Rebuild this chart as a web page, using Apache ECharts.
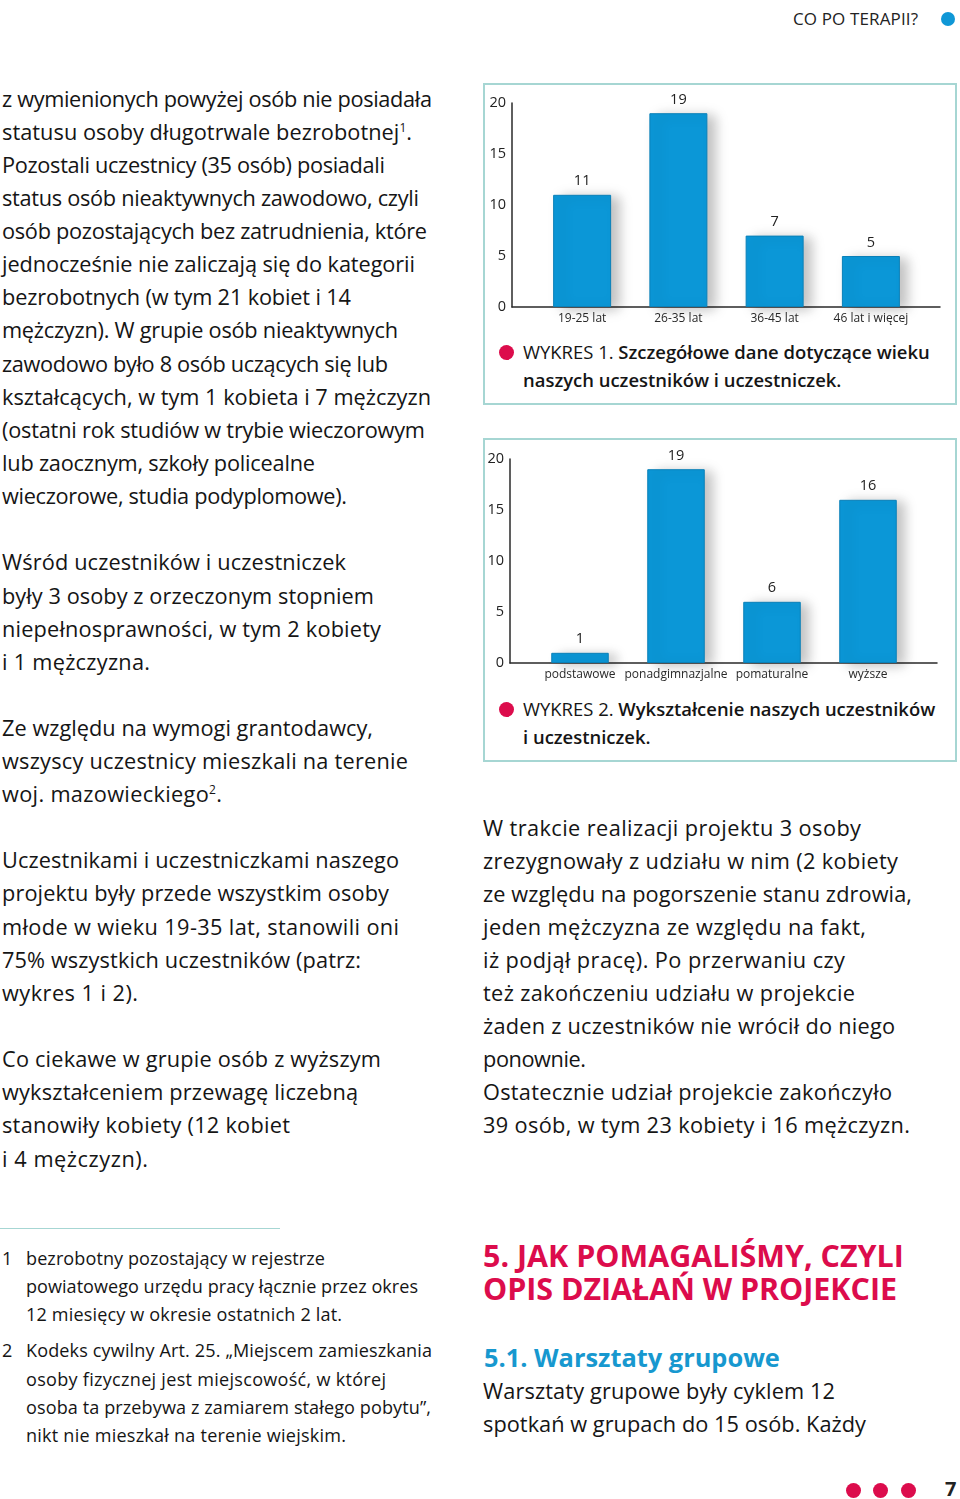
<!DOCTYPE html>
<html><head><meta charset="utf-8">
<script src="https://cdn.jsdelivr.net/npm/echarts@6/dist/echarts.min.js"></script>
<style>
html,body{margin:0;padding:0;background:#fff;}
#page{position:relative;width:960px;height:1499px;overflow:hidden;background:#fff;color:#151515;}
.t{position:absolute;white-space:nowrap;}
.dot{position:absolute;border-radius:50%;}
.panel{position:absolute;box-sizing:border-box;border:2px solid #a6d6d3;}
.chart{position:absolute;}
sup{font-size:0.55em;vertical-align:0.65em;line-height:0;}
</style></head>
<body><div id="page"></div>
<script>
// ---------- CHART DATA ----------
const ageCategories = ['19-25 lat', '26-35 lat', '36-45 lat', '46 lat i więcej'];
const ageValues = [11, 19, 7, 5];
const eduCategories = ['podstawowe', 'ponadgimnazjalne', 'pomaturalne', 'wyższe'];
const eduValues = [1, 19, 6, 16];
const axisMin = 0, axisMax = 20, axisStep = 5;

// ---------- PAGE TEXT ----------
const leftText = [
  'z wymienionych powyżej osób nie posiadała',
  'statusu osoby długotrwale bezrobotnej<sup>1</sup>.',
  'Pozostali uczestnicy (35 osób) posiadali',
  'status osób nieaktywnych zawodowo, czyli',
  'osób pozostających bez zatrudnienia, które',
  'jednocześnie nie zaliczają się do kategorii',
  'bezrobotnych (w tym 21 kobiet i 14',
  'mężczyzn). W grupie osób nieaktywnych',
  'zawodowo było 8 osób uczących się lub',
  'kształcących, w tym 1 kobieta i 7 mężczyzn',
  '(ostatni rok studiów w trybie wieczorowym',
  'lub zaocznym, szkoły policealne',
  'wieczorowe, studia podyplomowe).',
  'Wśród uczestników i uczestniczek',
  'były 3 osoby z orzeczonym stopniem',
  'niepełnosprawności, w tym 2 kobiety',
  'i 1 mężczyzna.',
  'Ze względu na wymogi grantodawcy,',
  'wszyscy uczestnicy mieszkali na terenie',
  'woj. mazowieckiego<sup>2</sup>.',
  'Uczestnikami i uczestniczkami naszego',
  'projektu były przede wszystkim osoby',
  'młode w wieku 19-35 lat, stanowili oni',
  '75% wszystkich uczestników (patrz:',
  'wykres 1 i 2).',
  'Co ciekawe w grupie osób z wyższym',
  'wykształceniem przewagę liczebną',
  'stanowiły kobiety (12 kobiet',
  'i 4 mężczyzn).'
];
const rightText = [
  'W trakcie realizacji projektu 3 osoby',
  'zrezygnowały z udziału w nim (2 kobiety',
  'ze względu na pogorszenie stanu zdrowia,',
  'jeden mężczyzna ze względu na fakt,',
  'iż podjął pracę). Po przerwaniu czy',
  'też zakończeniu udziału w projekcie',
  'żaden z uczestników nie wrócił do niego',
  'ponownie.',
  'Ostatecznie udział projekcie zakończyło',
  '39 osób, w tym 23 kobiety i 16 mężczyzn.',
  'Warsztaty grupowe były cyklem 12',
  'spotkań w grupach do 15 osób. Każdy'
];
const footNums = ['1', '', '', '2', '', '', ''];
const footText = [
  'bezrobotny pozostający w rejestrze',
  'powiatowego urzędu pracy łącznie przez okres',
  '12 miesięcy w okresie ostatnich 2 lat.',
  'Kodeks cywilny Art. 25. „Miejscem zamieszkania',
  'osoby fizycznej jest miejscowość, w której',
  'osoba ta przebywa z zamiarem stałego pobytu”,',
  'nikt nie mieszkał na terenie wiejskim.'
];

// ---------- PAGE LAYOUT (line centre y, right edge x) ----------
const leftLayout = [[99,432],[132,412],[165,385],[198,419],[231,427],[264,415],[297,351],[330,398],[364,388],[397,431],[430,425],[463,315],[496,347],
  [562,346],[596,374],[629,381],[662,150],[728,373],[761,408],[794,222],[860,399],[893,389],[927,399],[960,361],[993,138],[1059,381],[1092,358],[1125,290],[1159,148]];
const rightLayout = [[828,861],[861,898],[894,912],[927,866],[960,845],[993,855],[1026,895],[1059,586],[1092,892],[1125,910],[1391,835],[1424,866]];
const footLayout = [[1258,325],[1286,418],[1314,342],[1350,432],[1379,386],[1407,431],[1435,346]];

const FONT = '"Open Sans", "Noto Sans", sans-serif';
const CFONT = '"Open Sans", "Noto Sans", sans-serif';
const RED = '#dc0c4c', BLUE = '#0f97d6', BAR = '#0b97d7';
const page = document.getElementById('page');
const cv = document.createElement('canvas').getContext('2d');
function fit(segs, target) {
  let w = 0;
  segs.forEach(s => { cv.font = (s[1] || 400) + ' 100px ' + FONT; w += cv.measureText(s[0]).width; });
  return 100 * target / w;
}
function txt(html, x, yc, size, opt) {
  opt = opt || {};
  const d = document.createElement('div');
  d.className = 't';
  const lh = Math.round(size * 1.4);
  d.style.cssText = `left:${x}px;top:${yc - lh / 2}px;font-size:${size}px;line-height:${lh}px;font-family:${FONT};font-weight:${opt.w || 400};color:${opt.c || '#151515'};`;
  d.innerHTML = html;
  page.appendChild(d);
  if (opt.right) {
    const nat = d.getBoundingClientRect().width;
    const n = d.textContent.length - 1;
    if (n > 0) {
      let ls = (opt.right - x - nat) / n;
      ls = Math.max(-1.2, Math.min(1.2, ls));
      d.style.letterSpacing = ls + 'px';
    }
  }
  return d;
}
function dot(x, y, r, c) {
  const d = document.createElement('div');
  d.className = 'dot';
  d.style.cssText = `left:${x - r}px;top:${y - r}px;width:${2 * r}px;height:${2 * r}px;background:${c};`;
  page.appendChild(d);
}

const bodySize = fit([['kształcących, w tym 1 kobieta i 7 mężczyzn']], 429);
leftText.forEach((s, i) => txt(s, 2, leftLayout[i][0], bodySize, {right: leftLayout[i][1]}));
rightText.forEach((s, i) => txt(s, 483, rightLayout[i][0], bodySize, {right: rightLayout[i][1]}));

const footSize = fit([['powiatowego urzędu pracy łącznie przez okres']], 391);
footText.forEach((s, i) => {
  if (footNums[i]) txt(footNums[i], 2, footLayout[i][0], footSize);
  txt(s, 26, footLayout[i][0], footSize, {right: footLayout[i][1]});
});
const rule = document.createElement('div');
rule.style.cssText = 'position:absolute;left:0;top:1228px;width:280px;height:1px;background:#a6d6d3;';
page.appendChild(rule);

// header
txt('CO PO TERAPII?', 793, 19, 17, {c: '#222', right: 918});
dot(948, 19, 7, BLUE);

// headings
const h1Size = fit([['5. JAK POMAGALIŚMY, CZYLI', 700]], 421);
txt('5. JAK POMAGALIŚMY, CZYLI', 483, 1255, h1Size, {w: 700, c: RED});
txt('OPIS DZIAŁAŃ W PROJEKCIE', 483, 1288, h1Size, {w: 700, c: RED, right: 897});
const h2Size = fit([['5.1. Warsztaty grupowe', 700]], 296);
txt('5.1. Warsztaty grupowe', 484, 1357, h2Size, {w: 700, c: '#1798cf'});

// footer
dot(853, 1490, 7.5, RED); dot(880, 1490, 7.5, RED); dot(908, 1490, 7.5, RED);
txt('7', 945, 1489, 20, {w: 700, c: '#222'});

// captions
const capSize = fit([['WYKRES 1. ', 400], ['Szczegółowe dane dotyczące wieku', 600]], 407);
function caption(n, line1, line2, y1, y2) {
  dot(506, y1, 7.5, RED);
  txt('WYKRES ' + n + '. <span style="font-weight:600">' + line1 + '</span>', 523, y1, capSize);
  txt('<span style="font-weight:600">' + line2 + '</span>', 523, y2, capSize);
}
caption(1, 'Szczegółowe dane dotyczące wieku', 'naszych uczestników i uczestniczek.', 352, 380);
caption(2, 'Wykształcenie naszych uczestników', 'i uczestniczek.', 709, 737);

// ---------- charts ----------
function panel(x, y, w, h) {
  const p = document.createElement('div');
  p.className = 'panel';
  p.style.cssText = `left:${x}px;top:${y}px;width:${w}px;height:${h}px;`;
  page.appendChild(p);
  const c = document.createElement('div');
  c.className = 'chart';
  c.style.cssText = `left:${x}px;top:${y}px;width:${w}px;height:${h}px;`;
  page.appendChild(c);
  return c;
}
function barOption(cats, vals, g) {
  return {
    animation: false,
    textStyle: {fontFamily: CFONT},
    grid: [
      {left: g.left, right: g.right, top: g.top, height: 204},
      {left: g.lineLeft, right: g.lineRight, top: g.top, height: 204}
    ],
    xAxis: [
      {type: 'category', gridIndex: 0, data: cats,
       axisLine: {show: false}, axisTick: {show: false},
       axisLabel: {margin: 6, fontSize: 12, color: '#2a2a2a', fontFamily: CFONT, interval: 0}},
      {type: 'value', gridIndex: 1, min: 0, max: 1,
       axisLine: {show: true, onZero: false, lineStyle: {color: '#2a2a2a', width: 1.5}},
       axisTick: {show: false}, axisLabel: {show: false}, splitLine: {show: false}}
    ],
    yAxis: [
      {type: 'value', gridIndex: 0, min: axisMin, max: axisMax, interval: axisStep, offset: g.left - g.lineLeft,
       axisLine: {show: true, lineStyle: {color: '#2a2a2a', width: 1.5}},
       axisTick: {show: false}, splitLine: {show: false},
       axisLabel: {margin: 6, fontSize: 14.5, color: '#222', fontFamily: CFONT}},
      {type: 'value', gridIndex: 1, min: axisMin, max: axisMax, show: false}
    ],
    series: [{
      type: 'bar', xAxisIndex: 0, yAxisIndex: 0, data: vals, barWidth: g.barWidth,
      itemStyle: {color: BAR, borderColor: '#0a80b8', borderWidth: 1,
                  shadowColor: 'rgba(0,0,0,0.25)', shadowBlur: 12, shadowOffsetX: 8, shadowOffsetY: 2},
      label: {show: true, position: 'top', distance: 6, fontSize: 14.5, color: '#222', fontFamily: CFONT}
    }]
  };
}
const c1 = echarts.init(panel(483, 83, 474, 322), null, {renderer: 'canvas'});
c1.setOption(barOption(ageCategories, ageValues,
  {left: 51, right: 38, top: 20, lineLeft: 29, lineRight: 17, barWidth: 58}));
const c2 = echarts.init(panel(483, 438, 474, 324), null, {renderer: 'canvas'});
c2.setOption(barOption(eduCategories, eduValues,
  {left: 49, right: 41, top: 21, lineLeft: 27, lineRight: 20, barWidth: 57.5}));
</script>
</body></html>
